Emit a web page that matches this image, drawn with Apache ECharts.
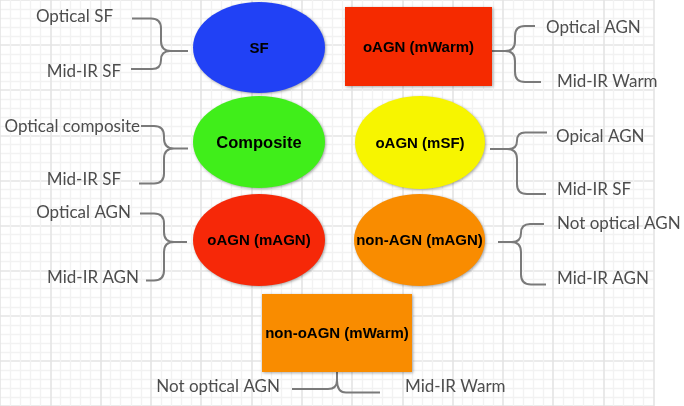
<!DOCTYPE html>
<html><head><meta charset="utf-8">
<script src="https://cdn.jsdelivr.net/npm/echarts@6/dist/echarts.min.js"></script>
<style>html,body{margin:0;padding:0;background:#fff}#c{width:684px;height:406px}</style>
</head><body><div id="c"></div>
<script>
// ---------- diagram content ----------
const nodeNames  = ['SF', 'Composite', 'oAGN (mAGN)', 'oAGN (mWarm)', 'oAGN (mSF)', 'non-AGN (mAGN)', 'non-oAGN (mWarm)'];
const nodeShapes = ['ellipse', 'ellipse', 'ellipse', 'rect', 'ellipse', 'ellipse', 'rect'];
// node layout (diagram units = px on the layout axes)
const nodeCX = [259, 259, 259, 418.5, 420, 419.5, 337];
const nodeCY = [47.5, 142, 240, 46.5, 142.5, 240, 333];
const nodeRX = [66, 66, 66, 73.5, 65, 65.5, 75];
const nodeRY = [45.5, 46, 46, 39.5, 46.5, 46, 39];

const labelTexts = ['Optical SF', 'Mid-IR SF', 'Optical composite', 'Mid-IR SF', 'Optical AGN', 'Mid-IR AGN',
                    'Not optical AGN', 'Mid-IR Warm',
                    'Optical AGN', 'Mid-IR Warm', 'Opical AGN', 'Mid-IR SF', 'Not optical AGN', 'Mid-IR AGN'];
const labelX = [113, 121, 140, 121, 131, 139, 280, 405, 546, 557, 556, 557, 557, 557];
const labelY = [16, 70.5, 125.3, 178.8, 212, 277, 385.5, 385.5, 26.7, 81, 135.5, 189, 222.7, 277.2];
const labelSide = ['right', 'right', 'right', 'right', 'right', 'right', 'right', 'left',
                   'left', 'left', 'left', 'left', 'left', 'left'];

// braces: dir 'r' = tip on right, 'l' = tip on left, 'u' = tip on top
const braceDir   = ['r', 'r', 'r', 'l', 'l', 'l', 'u'];
const braceTipX  = [188, 188, 187, 492, 490, 498, 337];
const braceTipY  = [51, 148.5, 242, 51, 149, 242, 372];
const braceSpine = [161, 164, 164, 515, 517, 521, 0];
const braceAX    = [132, 141, 140, 535, 547, 544, 292];
const braceAY    = [18.5, 126, 213.5, 26, 132.5, 224, 389];
const braceBX    = [131, 139, 146, 541, 546, 546, 380];
const braceBY    = [69, 183.5, 280.5, 82, 194, 284.5, 392.5];

// ---------- styles ----------
const nodeColors = ['#2141f5', '#40ee1a', '#f62808', '#f52a00', '#f7f500', '#f98c00', '#f98c00'];
const nodeFontSize = [15, 16.5, 15, 15, 15, 15, 15];
const textGray = '#4d4d4d';
const braceGray = '#7a7a7a';
const labelFont = '17px Lato';

const chart = echarts.init(document.getElementById('c'), null, {renderer: 'canvas'});

function ellipsePath(cx, cy, rx, ry) {
  const k = 0.5522847;
  const ox = rx * k, oy = ry * k;
  return `M${cx - rx},${cy} C${cx - rx},${cy - oy} ${cx - ox},${cy - ry} ${cx},${cy - ry}` +
         ` C${cx + ox},${cy - ry} ${cx + rx},${cy - oy} ${cx + rx},${cy}` +
         ` C${cx + rx},${cy + oy} ${cx + ox},${cy + ry} ${cx},${cy + ry}` +
         ` C${cx - ox},${cy + ry} ${cx - rx},${cy + oy} ${cx - rx},${cy} Z`;
}

function renderNode(params, api) {
  const i = params.dataIndex;
  const c = api.coord([api.value(0), api.value(1)]);
  const s = api.size([api.value(2), api.value(3)]);
  const rx = s[0], ry = s[1];
  const style = {fill: nodeColors[i], shadowBlur: 3, shadowColor: 'rgba(0,0,0,0.35)', shadowOffsetX: 1, shadowOffsetY: 1};
  const shape = nodeShapes[i] === 'rect'
    ? {type: 'rect', shape: {x: c[0] - rx, y: c[1] - ry, width: 2 * rx, height: 2 * ry}, style}
    : {type: 'path', shape: {pathData: ellipsePath(c[0], c[1], rx, ry)}, style};
  return {type: 'group', children: [shape, {
    type: 'text', style: {text: nodeNames[i], x: c[0], y: c[1] + 1, align: 'center', verticalAlign: 'middle',
      font: 'bold ' + nodeFontSize[i] + 'px "Liberation Sans", Arial, sans-serif', fill: '#000'}
  }]};
}

function renderBrace(params, api) {
  const i = params.dataIndex;
  const P = (x, y) => api.coord([x, y]);
  const d = braceDir[i];
  let path = '';
  const pt = p => p[0] + ',' + p[1];
  if (d === 'u') {
    const tx = braceTipX[i], ty = braceTipY[i];
    const r = 9;
    const ay = braceAY[i], by = braceBY[i];
    path = `M${pt(P(braceAX[i], ay))} L${pt(P(tx - r, ay))} Q${pt(P(tx, ay))} ${pt(P(tx, ay - r))} L${pt(P(tx, ty))}` +
           ` M${pt(P(tx, by - r - 3))} Q${pt(P(tx, by))} ${pt(P(tx + r, by))} L${pt(P(braceBX[i], by))}`;
  } else {
    const sx = braceSpine[i], tx = braceTipX[i], ty = braceTipY[i];
    const ay = braceAY[i], by = braceBY[i];
    const sg = d === 'r' ? 1 : -1; // direction toward tip
    const r1 = Math.min(10, (ty - ay) / 2), r2 = Math.min(10, (by - ty) / 2);
    path = `M${pt(P(braceAX[i], ay))} L${pt(P(sx - sg * r1, ay))} Q${pt(P(sx, ay))} ${pt(P(sx, ay + r1))}` +
           ` L${pt(P(sx, ty - r1))} Q${pt(P(sx, ty))} ${pt(P(sx + sg * r1, ty))} L${pt(P(tx, ty))}` +
           ` M${pt(P(sx + sg * r2, ty))} Q${pt(P(sx, ty))} ${pt(P(sx, ty + r2))}` +
           ` L${pt(P(sx, by - r2))} Q${pt(P(sx, by))} ${pt(P(sx - sg * r2, by))} L${pt(P(braceBX[i], by))}`;
  }
  return {type: 'path', shape: {pathData: path},
    style: {fill: null, stroke: braceGray, lineWidth: 2, lineJoin: 'round', lineCap: 'butt'}};
}

function renderLabel(params, api) {
  const i = params.dataIndex;
  const c = api.coord([api.value(0), api.value(1)]);
  return {type: 'text', style: {text: labelTexts[i], x: c[0], y: c[1] + 1, align: labelSide[i],
    verticalAlign: 'middle', font: labelFont, fill: textGray}};
}

chart.setOption({
  animation: false,
  backgroundColor: '#ffffff',
  grid: [
    {left: -51.5, top: -40.05, width: 13 * 54.25, height: 9 * 54.25, containLabel: false},
    {left: 0, top: 0, width: 684, height: 406, containLabel: false}
  ],
  xAxis: [
    {gridIndex: 0, type: 'value', min: 0, max: 13, interval: 1,
      axisLine: {show: false}, axisTick: {show: false}, axisLabel: {show: false},
      splitLine: {show: true, lineStyle: {color: '#e4e4e4', width: 1.6}},
      minorTick: {show: false, splitNumber: 5},
      minorSplitLine: {show: true, lineStyle: {color: '#f2f2f2', width: 1.3}}},
    {gridIndex: 1, type: 'value', min: 0, max: 684, show: false}
  ],
  yAxis: [
    {gridIndex: 0, type: 'value', min: 0, max: 9, interval: 1, inverse: true,
      axisLine: {show: false}, axisTick: {show: false}, axisLabel: {show: false},
      splitLine: {show: true, lineStyle: {color: '#e4e4e4', width: 1.6}},
      minorTick: {show: false, splitNumber: 5},
      minorSplitLine: {show: true, lineStyle: {color: '#f2f2f2', width: 1.3}}},
    {gridIndex: 1, type: 'value', min: 0, max: 406, inverse: true, show: false}
  ],
  series: [
    {type: 'custom', xAxisIndex: 1, yAxisIndex: 1, renderItem: renderBrace, silent: true,
      data: braceDir.map((d, i) => [braceTipX[i], braceTipY[i]])},
    {type: 'custom', xAxisIndex: 1, yAxisIndex: 1, renderItem: renderNode, silent: true,
      data: nodeNames.map((n, i) => [nodeCX[i], nodeCY[i], nodeRX[i], nodeRY[i]])},
    {type: 'custom', xAxisIndex: 1, yAxisIndex: 1, renderItem: renderLabel, silent: true,
      data: labelTexts.map((t, i) => [labelX[i], labelY[i]])}
  ]
});
</script>
</body></html>
